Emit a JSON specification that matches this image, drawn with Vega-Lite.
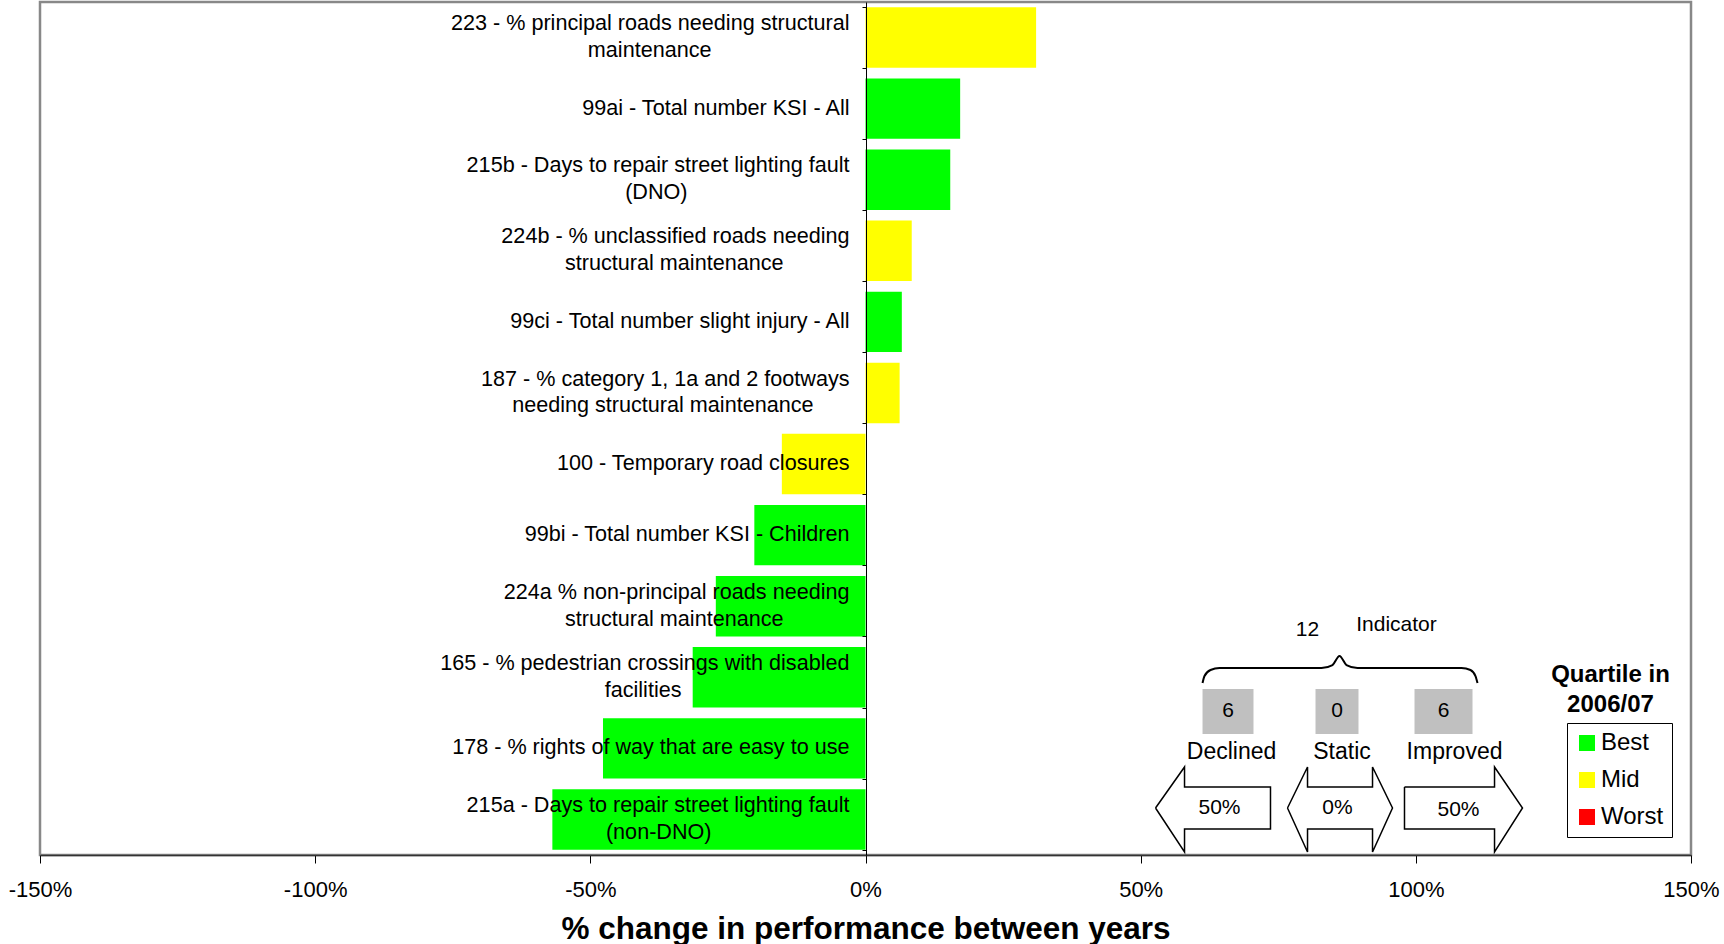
{
  "$schema": "https://vega.github.io/schema/vega-lite/v6.json",
  "width": 1651,
  "height": 853,
  "autosize": {"type": "none"},
  "padding": {"left": 40, "top": 2, "right": 33, "bottom": 89},
  "background": "white",
  "config": {
    "font": "Liberation Sans",
    "view": {"stroke": "#888888", "strokeWidth": 2.5},
    "axis": {"grid": false}
  },
  "encoding": {
    "x": {
      "field": "pct",
      "type": "quantitative",
      "scale": {"domain": [-150, 150], "nice": false, "zero": false},
      "axis": {
        "values": [-150, -100, -50, 0, 50, 100, 150],
        "labelExpr": "datum.value + '%'",
        "title": "% change in performance between years",
        "titleFontSize": 31.5,
        "titleFontWeight": "bold",
        "titleColor": "black",
        "titlePadding": 13,
        "labelFontSize": 22,
        "labelColor": "black",
        "labelPadding": 16,
        "labelFlush": false,
        "labelOverlap": false,
        "tickSize": 8,
        "tickColor": "black",
        "domainColor": "#333333",
        "domainWidth": 1.5,
        "grid": false,
        "zindex": 1
      }
    }
  },
  "layer": [
    {
      "data": {
        "values": [
          {"id": "223", "l1": "223 - % principal roads needing structural", "l2": "maintenance\u00a0\u00a0\u00a0\u00a0\u00a0\u00a0\u00a0\u00a0\u00a0\u00a0\u00a0\u00a0\u00a0\u00a0\u00a0\u00a0\u00a0\u00a0\u00a0\u00a0\u00a0\u00a0\u00a0\u200b", "pct": 31.0, "quartile": "Mid"},
          {"id": "99ai", "l1": "99ai - Total number KSI - All", "l2": "", "pct": 17.2, "quartile": "Best"},
          {"id": "215b", "l1": "215b - Days to repair street lighting fault", "l2": "(DNO)\u00a0\u00a0\u00a0\u00a0\u00a0\u00a0\u00a0\u00a0\u00a0\u00a0\u00a0\u00a0\u00a0\u00a0\u00a0\u00a0\u00a0\u00a0\u00a0\u00a0\u00a0\u00a0\u00a0\u00a0\u00a0\u00a0\u00a0\u200b", "pct": 15.4, "quartile": "Best"},
          {"id": "224b", "l1": "224b - % unclassified roads needing", "l2": "structural maintenance\u00a0\u00a0\u00a0\u00a0\u00a0\u00a0\u00a0\u00a0\u00a0\u00a0\u00a0\u200b", "pct": 8.4, "quartile": "Mid"},
          {"id": "99ci", "l1": "99ci - Total number slight injury - All", "l2": "", "pct": 6.6, "quartile": "Best"},
          {"id": "187", "l1": "187 - % category 1, 1a and 2 footways", "l2": "needing structural maintenance\u00a0\u00a0\u00a0\u00a0\u00a0\u00a0\u200b", "pct": 6.2, "quartile": "Mid"},
          {"id": "100", "l1": "100 - Temporary road closures", "l2": "", "pct": -15.2, "quartile": "Mid"},
          {"id": "99bi", "l1": "99bi - Total number KSI - Children", "l2": "", "pct": -20.2, "quartile": "Best"},
          {"id": "224a", "l1": "224a % non-principal roads needing", "l2": "structural maintenance\u00a0\u00a0\u00a0\u00a0\u00a0\u00a0\u00a0\u00a0\u00a0\u00a0\u00a0\u200b", "pct": -27.2, "quartile": "Best"},
          {"id": "165", "l1": "165 - % pedestrian crossings with disabled", "l2": "facilities\u00a0\u00a0\u00a0\u00a0\u00a0\u00a0\u00a0\u00a0\u00a0\u00a0\u00a0\u00a0\u00a0\u00a0\u00a0\u00a0\u00a0\u00a0\u00a0\u00a0\u00a0\u00a0\u00a0\u00a0\u00a0\u00a0\u00a0\u00a0\u200b", "pct": -31.4, "quartile": "Best"},
          {"id": "178", "l1": "178 - % rights of way that are easy to use", "l2": "", "pct": -47.7, "quartile": "Best"},
          {"id": "215a", "l1": "215a - Days to repair street lighting fault", "l2": "(non-DNO)\u00a0\u00a0\u00a0\u00a0\u00a0\u00a0\u00a0\u00a0\u00a0\u00a0\u00a0\u00a0\u00a0\u00a0\u00a0\u00a0\u00a0\u00a0\u00a0\u00a0\u00a0\u00a0\u00a0\u200b", "pct": -56.9, "quartile": "Best"}
        ]
      },
      "encoding": {
        "y": {
          "field": "id",
          "type": "nominal",
          "sort": null,
          "scale": {"paddingInner": 0.15, "paddingOuter": 0.075},
          "axis": {
            "orient": "left",
            "offset": -826,
            "labels": false,
            "title": null,
            "tickSize": 4,
            "tickColor": "black",
            "domainColor": "black",
            "domainWidth": 1,
            "tickBand": "extent",
            "zindex": 1
          }
        }
      },
      "layer": [
        {
          "mark": {"type": "bar", "opacity": 1},
          "encoding": {
            "color": {
              "field": "quartile",
              "type": "nominal",
              "scale": {"domain": ["Best", "Mid", "Worst"], "range": ["#00ff00", "#ffff00", "#ff0000"]},
              "legend": {
                "orient": "none",
                "legendX": 1527,
                "legendY": 721,
                "title": null,
                "symbolType": "square",
                "symbolSize": 256,
                "symbolStrokeWidth": 0,
                "symbolOpacity": 1,
                "labelFontSize": 24,
                "labelColor": "black",
                "labelOffset": 2,
                "rowPadding": 13,
                "padding": 8,
                "strokeColor": "black",
                "fillColor": "white"
              }
            }
          }
        },
        {
          "transform": [{"filter": "datum.l2 == ''"}],
          "mark": {"type": "text", "align": "right", "baseline": "middle", "dx": -16, "fontSize": 21.6, "color": "black"},
          "encoding": {
            "x": {"datum": 0, "type": "quantitative"},
            "text": {"field": "l1"}
          }
        },
        {
          "transform": [{"filter": "datum.l2 != ''"}],
          "mark": {"type": "text", "align": "right", "baseline": "middle", "dx": -16, "dy": -13.3, "fontSize": 21.6, "color": "black"},
          "encoding": {
            "x": {"datum": 0, "type": "quantitative"},
            "text": {"field": "l1"}
          }
        },
        {
          "transform": [{"filter": "datum.l2 != ''"}],
          "mark": {"type": "text", "align": "right", "baseline": "middle", "dx": -16, "dy": 13.3, "fontSize": 21.6, "color": "black"},
          "encoding": {
            "x": {"datum": 0, "type": "quantitative"},
            "text": {"field": "l2"}
          }
        }
      ]
    },
    {
      "encoding": {
        "y": {"field": "v", "type": "quantitative", "scale": {"domain": [0, 100], "nice": false, "zero": false}, "axis": null}
      },
      "layer": [
        {
          "data": {
            "values": [
              {"shape": "L", "i": 1, "pct": 52.7, "v": 5.51},
              {"shape": "L", "i": 2, "pct": 57.97, "v": 10.32},
              {"shape": "L", "i": 3, "pct": 57.97, "v": 7.97},
              {"shape": "L", "i": 4, "pct": 73.59, "v": 7.97},
              {"shape": "L", "i": 5, "pct": 73.59, "v": 3.05},
              {"shape": "L", "i": 6, "pct": 57.97, "v": 3.05},
              {"shape": "L", "i": 7, "pct": 57.97, "v": 0.35},
              {"shape": "L", "i": 8, "pct": 52.7, "v": 5.51},
              {"shape": "S", "i": 1, "pct": 76.68, "v": 5.51},
              {"shape": "S", "i": 2, "pct": 80.32, "v": 10.32},
              {"shape": "S", "i": 3, "pct": 80.32, "v": 7.97},
              {"shape": "S", "i": 4, "pct": 92.13, "v": 7.97},
              {"shape": "S", "i": 5, "pct": 92.13, "v": 10.32},
              {"shape": "S", "i": 6, "pct": 95.76, "v": 5.51},
              {"shape": "S", "i": 7, "pct": 92.13, "v": 0.35},
              {"shape": "S", "i": 8, "pct": 92.13, "v": 3.05},
              {"shape": "S", "i": 9, "pct": 80.32, "v": 3.05},
              {"shape": "S", "i": 10, "pct": 80.32, "v": 0.35},
              {"shape": "S", "i": 11, "pct": 76.68, "v": 5.51},
              {"shape": "R", "i": 1, "pct": 97.94, "v": 7.97},
              {"shape": "R", "i": 2, "pct": 114.3, "v": 7.97},
              {"shape": "R", "i": 3, "pct": 114.3, "v": 10.32},
              {"shape": "R", "i": 4, "pct": 119.38, "v": 5.51},
              {"shape": "R", "i": 5, "pct": 114.3, "v": 0.35},
              {"shape": "R", "i": 6, "pct": 114.3, "v": 3.05},
              {"shape": "R", "i": 7, "pct": 97.94, "v": 3.05},
              {"shape": "R", "i": 8, "pct": 97.94, "v": 7.97}
            ]
          },
          "mark": {"type": "line", "color": "black", "strokeWidth": 1.5, "strokeJoin": "miter"},
          "encoding": {
            "detail": {"field": "shape"},
            "order": {"field": "i", "type": "quantitative"}
          }
        },
        {
          "data": {
            "values": [
              {"i": 1, "pct": 61.24, "v": 20.16},
              {"i": 2, "pct": 61.6, "v": 20.98},
              {"i": 3, "pct": 62.69, "v": 21.69},
              {"i": 4, "pct": 64.32, "v": 21.92},
              {"i": 5, "pct": 82.86, "v": 21.92},
              {"i": 6, "pct": 84.86, "v": 22.27},
              {"i": 7, "pct": 86.13, "v": 23.33},
              {"i": 8, "pct": 87.4, "v": 22.27},
              {"i": 9, "pct": 89.4, "v": 21.92},
              {"i": 10, "pct": 108.3, "v": 21.92},
              {"i": 11, "pct": 109.93, "v": 21.69},
              {"i": 12, "pct": 110.84, "v": 20.98},
              {"i": 13, "pct": 111.21, "v": 20.16}
            ]
          },
          "mark": {"type": "line", "interpolate": "monotone", "color": "black", "strokeWidth": 2},
          "encoding": {
            "order": {"field": "i", "type": "quantitative"}
          }
        },
        {
          "data": {
            "values": [
              {"pct": 61.24, "pct2": 70.5, "v": 14.19, "v2": 19.46},
              {"pct": 81.77, "pct2": 89.58, "v": 14.19, "v2": 19.46},
              {"pct": 99.76, "pct2": 110.3, "v": 14.19, "v2": 19.46}
            ]
          },
          "mark": {"type": "rect", "color": "#c0c0c0"},
          "encoding": {
            "x2": {"field": "pct2"},
            "y2": {"field": "v2"}
          }
        },
        {
          "data": {
            "values": [
              {"pct": 80.32, "v": 26.38, "t": "12"},
              {"pct": 96.49, "v": 26.96, "t": "Indicator"},
              {"pct": 65.87, "v": 16.88, "t": "6"},
              {"pct": 85.68, "v": 16.88, "t": "0"},
              {"pct": 105.03, "v": 16.88, "t": "6"},
              {"pct": 64.32, "v": 5.51, "t": "50%"},
              {"pct": 85.77, "v": 5.51, "t": "0%"},
              {"pct": 107.75, "v": 5.28, "t": "50%"}
            ]
          },
          "mark": {"type": "text", "fontSize": 21, "color": "black", "baseline": "middle", "align": "center"},
          "encoding": {"text": {"field": "t"}}
        },
        {
          "data": {
            "values": [
              {"pct": 66.51, "v": 12.08, "t": "Declined"},
              {"pct": 86.58, "v": 12.08, "t": "Static"},
              {"pct": 107.03, "v": 12.08, "t": "Improved"}
            ]
          },
          "mark": {"type": "text", "fontSize": 23, "color": "black", "baseline": "middle", "align": "center"},
          "encoding": {"text": {"field": "t"}}
        },
        {
          "data": {
            "values": [
              {"pct": 135.37, "v": 21.1, "t": "Quartile in"},
              {"pct": 135.37, "v": 17.59, "t": "2006/07"}
            ]
          },
          "mark": {"type": "text", "fontSize": 24, "fontWeight": "bold", "color": "black", "baseline": "middle", "align": "center"},
          "encoding": {"text": {"field": "t"}}
        }
      ]
    }
  ],
  "resolve": {"scale": {"y": "independent"}}
}
